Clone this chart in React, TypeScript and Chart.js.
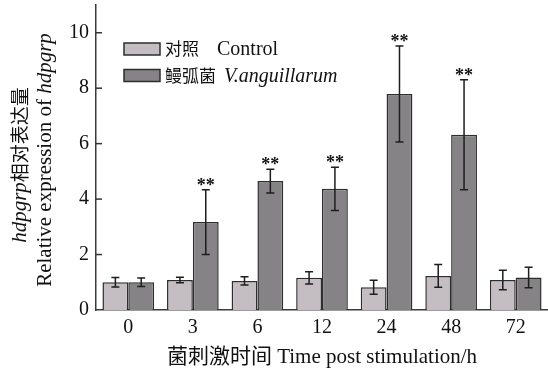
import React, { useEffect, useRef } from "react";
import { Chart, registerables } from "chart.js";

Chart.register(...registerables);

const categories = ["0", "3", "6", "12", "24", "48", "72"];
const controlValues = [1.0, 1.08, 1.05, 1.16, 0.82, 1.23, 1.08];
const controlErrors = [0.17, 0.1, 0.15, 0.22, 0.25, 0.41, 0.35];
const infectedValues = [1.0, 3.17, 4.65, 4.37, 7.79, 6.32, 1.17];
const infectedErrors = [0.15, 1.17, 0.43, 0.78, 1.73, 1.98, 0.37];
const significance = ["", "**", "**", "**", "**", "**", ""];
const yTicks = [0, 2, 4, 6, 8, 10];
const yMax = 11;

const legendCjk = ["对照", "鳗弧菌"];
const legendLatin = ["Control", "V.anguillarum"];
const legendItalic = [false, true];
const xTitle = "菌刺激时间 Time post stimulation/h";
const yTitleLine1 = [
  { text: "hdpgrp", italic: true, cjk: false },
  { text: "相对表达量", italic: false, cjk: true },
];
const yTitleLine2 = [
  { text: "Relative expression of ", italic: false, cjk: false },
  { text: "hdpgrp", italic: true, cjk: false },
];

const SERIF = "'Liberation Serif', 'Noto Sans CJK SC', serif";
const CJK = "'Noto Sans CJK SC', sans-serif";
const controlColor = "#c4bec3";
const infectedColor = "#868386";
const edgeColor = "#2e2e2e";

type Seg = { text: string; italic: boolean; cjk: boolean };

function segFont(s: Seg, latinSize: number, cjkSize: number) {
  if (s.cjk) return `${cjkSize}px ${CJK}`;
  return `${s.italic ? "italic " : ""}${latinSize}px 'Liberation Serif', serif`;
}

function drawSegs(ctx: CanvasRenderingContext2D, segs: Seg[], latinSize: number, cjkSize: number, cx: number, cy: number) {
  let total = 0;
  const widths = segs.map((s) => {
    ctx.font = segFont(s, latinSize, cjkSize);
    const w = ctx.measureText(s.text).width;
    total += w;
    return w;
  });
  let x = cx - total / 2;
  segs.forEach((s, i) => {
    ctx.font = segFont(s, latinSize, cjkSize);
    ctx.fillText(s.text, x, cy);
    x += widths[i];
  });
}

const overlayPlugin = {
  id: "overlay",
  afterDatasetsDraw(chart: any) {
    const ctx: CanvasRenderingContext2D = chart.ctx;
    const y = chart.scales.y;
    const area = chart.chartArea;
    ctx.save();
    // inward y tick marks
    ctx.strokeStyle = "#333";
    ctx.lineWidth = 1.5;
    yTicks.forEach((v) => {
      if (v === 0) return;
      const py = y.getPixelForValue(v);
      ctx.beginPath();
      ctx.moveTo(area.left, py);
      ctx.lineTo(area.left + 6, py);
      ctx.stroke();
    });
    // error bars
    const series = [
      { vals: controlValues, errs: controlErrors },
      { vals: infectedValues, errs: infectedErrors },
    ];
    ctx.strokeStyle = "#1e1e1e";
    ctx.lineWidth = 1.5;
    series.forEach((s, di) => {
      const meta = chart.getDatasetMeta(di);
      meta.data.forEach((bar: any, i: number) => {
        const x = bar.x;
        const top = y.getPixelForValue(s.vals[i] + s.errs[i]);
        const bot = y.getPixelForValue(s.vals[i] - s.errs[i]);
        ctx.beginPath();
        ctx.moveTo(x, top);
        ctx.lineTo(x, bot);
        ctx.moveTo(x - 4, top);
        ctx.lineTo(x + 4, top);
        ctx.moveTo(x - 4, bot);
        ctx.lineTo(x + 4, bot);
        ctx.stroke();
        if (di === 1 && significance[i]) {
          ctx.fillStyle = "#111";
          ctx.font = `bold 18px 'Liberation Serif', serif`;
          ctx.textAlign = "center";
          ctx.textBaseline = "alphabetic";
          ctx.fillText(significance[i], x, top + 1);
        }
      });
    });
    ctx.restore();
  },
  afterDraw(chart: any) {
    const ctx: CanvasRenderingContext2D = chart.ctx;
    ctx.save();
    // legend
    const colors = [controlColor, infectedColor];
    const rowY = [49, 75.5];
    const latinX = [217, 224];
    colors.forEach((c, i) => {
      ctx.fillStyle = c;
      ctx.fillRect(124, rowY[i] - 6, 36, 12);
      ctx.strokeStyle = edgeColor;
      ctx.lineWidth = 1.5;
      ctx.strokeRect(124, rowY[i] - 6, 36, 12);
      ctx.fillStyle = "#111";
      ctx.textAlign = "left";
      ctx.textBaseline = "middle";
      ctx.font = `17px ${CJK}`;
      ctx.fillText(legendCjk[i], 165, rowY[i]);
      ctx.font = `${legendItalic[i] ? "italic " : ""}20px 'Liberation Serif', serif`;
      ctx.fillText(legendLatin[i], latinX[i], rowY[i] + 1);
    });
    // y title (two rotated lines)
    ctx.fillStyle = "#111";
    ctx.textAlign = "left";
    ctx.textBaseline = "middle";
    ctx.save();
    ctx.translate(20, 165);
    ctx.rotate(-Math.PI / 2);
    drawSegs(ctx, yTitleLine1, 21, 19, 0, 0);
    ctx.restore();
    ctx.save();
    ctx.translate(45, 160);
    ctx.rotate(-Math.PI / 2);
    drawSegs(ctx, yTitleLine2, 21, 19, 0, 0);
    ctx.restore();
    ctx.restore();
  },
};

export default function App() {
  const canvasRef = useRef<HTMLCanvasElement | null>(null);

  useEffect(() => {
    if (!canvasRef.current) return;
    const chart = new Chart(canvasRef.current, {
      type: "bar",
      data: {
        labels: categories,
        datasets: [
          {
            label: legendCjk[0] + " " + legendLatin[0],
            data: controlValues,
            backgroundColor: controlColor,
            borderColor: edgeColor,
            borderWidth: 1.5,
            categoryPercentage: 0.8,
            barPercentage: 1.0,
          },
          {
            label: legendCjk[1] + " " + legendLatin[1],
            data: infectedValues,
            backgroundColor: infectedColor,
            borderColor: edgeColor,
            borderWidth: 1.5,
            categoryPercentage: 0.8,
            barPercentage: 1.0,
          },
        ],
      },
      options: {
        animation: false,
        responsive: false,
        layout: { padding: { top: 5, right: 0, left: 0, bottom: 0 } },
        plugins: {
          legend: { display: false },
          tooltip: { enabled: false },
        },
        scales: {
          x: {
            grid: { display: false, drawTicks: false },
            border: { display: true, color: "#3a3a3a", width: 1.5 },
            ticks: {
              color: "#111",
              font: { family: SERIF, size: 20 },
              padding: 6,
            },
            title: {
              display: true,
              text: xTitle,
              color: "#111",
              font: { family: SERIF, size: 21 },
              padding: { top: 0, bottom: 3 },
            },
            afterFit: (scale: any) => {
              scale.height = 63;
              scale.paddingLeft = 0;
              scale.paddingRight = 0;
            },
          },
          y: {
            min: 0,
            max: yMax,
            grid: { display: false, drawTicks: false },
            border: { display: true, color: "#3a3a3a", width: 1.5 },
            ticks: {
              stepSize: 2,
              color: "#111",
              font: { family: SERIF, size: 20 },
              padding: 7,
            },
            afterBuildTicks: (scale: any) => {
              scale.ticks = yTicks.map((v) => ({ value: v }));
            },
            afterFit: (scale: any) => {
              scale.width = 96;
              scale.paddingTop = 0;
              scale.paddingBottom = 0;
            },
          },
        },
      },
      plugins: [overlayPlugin],
    });
    return () => chart.destroy();
  }, []);

  return (
    <div style={{ position: "absolute", left: 0, top: 0, width: 548, height: 373, background: "#fff" }}>
      <canvas ref={canvasRef} width={548} height={373} style={{ width: 548, height: 373, display: "block" }} />
    </div>
  );
}
